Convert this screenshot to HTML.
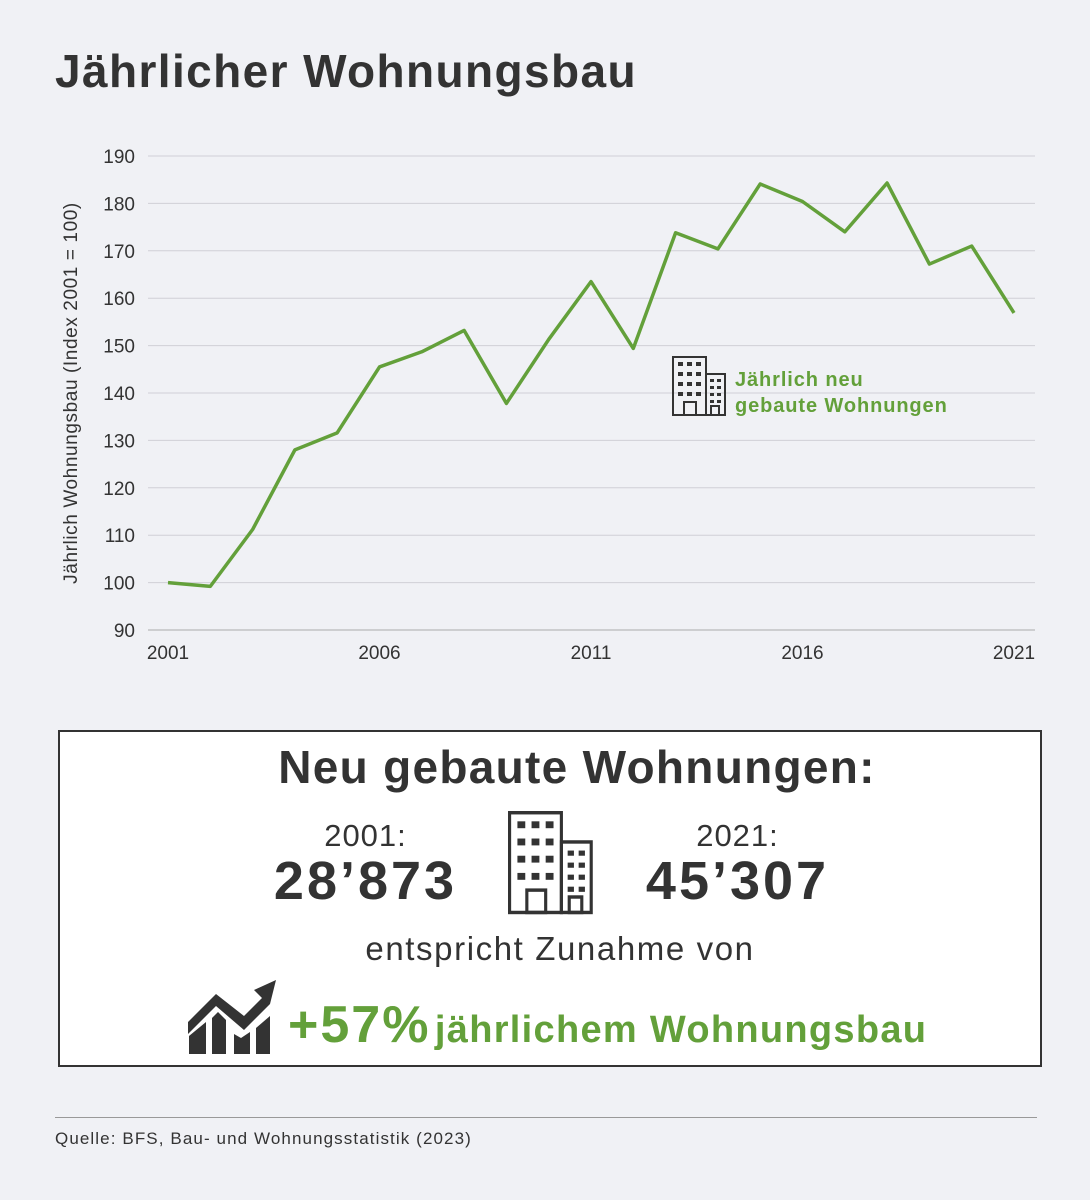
<!DOCTYPE html>
<html><head><meta charset="utf-8"><style>
body{margin:0;width:1090px;height:1200px;background:#f0f1f5;font-family:"Liberation Sans",sans-serif;color:#333;position:relative;overflow:hidden}
.abs{position:absolute}
</style></head><body>
<div class="abs" style="left:55px;top:44px;font-size:46px;font-weight:bold;color:#333;letter-spacing:1.4px">Jährlicher Wohnungsbau</div>
<svg class="abs" style="left:0;top:0" width="1090" height="700">
<defs>
<g id="bld" fill="none" stroke="#333" stroke-width="2">
<rect x="1" y="1" width="33" height="58"/><rect x="34" y="18" width="19" height="41"/>
<rect x="12" y="46" width="12" height="13"/><rect x="39" y="50" width="8" height="9"/>
<g fill="#333" stroke="none">
<rect x="6" y="6" width="5" height="4"/><rect x="15" y="6" width="5" height="4"/><rect x="24" y="6" width="5" height="4"/>
<rect x="6" y="16" width="5" height="4"/><rect x="15" y="16" width="5" height="4"/><rect x="24" y="16" width="5" height="4"/>
<rect x="6" y="26" width="5" height="4"/><rect x="15" y="26" width="5" height="4"/><rect x="24" y="26" width="5" height="4"/>
<rect x="6" y="36" width="5" height="4"/><rect x="15" y="36" width="5" height="4"/><rect x="24" y="36" width="5" height="4"/>
<rect x="38" y="23" width="4" height="3"/><rect x="45" y="23" width="4" height="3"/>
<rect x="38" y="30" width="4" height="3"/><rect x="45" y="30" width="4" height="3"/>
<rect x="38" y="37" width="4" height="3"/><rect x="45" y="37" width="4" height="3"/>
<rect x="38" y="44" width="4" height="3"/><rect x="45" y="44" width="4" height="3"/>
</g></g></defs>
<g id="grid"></g><g id="yt"></g><g id="xt"></g>
<text transform="translate(77,393) rotate(-90)" text-anchor="middle" font-size="19" fill="#333" letter-spacing="0.6">Jährlich Wohnungsbau (Index 2001 = 100)</text>
<path id="line" fill="none" stroke="#63a03a" stroke-width="3.5" stroke-linejoin="round"/>
<use href="#bld" transform="translate(672,356)"/>
<text x="735" y="386" font-size="20" font-weight="bold" fill="#63a03a" letter-spacing="0.9">Jährlich neu</text>
<text x="735" y="412" font-size="20" font-weight="bold" fill="#63a03a" letter-spacing="0.9">gebaute Wohnungen</text>
</svg>
<div class="abs" style="left:58px;top:730px;width:980px;height:333px;border:2px solid #333;background:#fff"></div>
<div class="abs" style="left:85px;width:984px;text-align:center;top:740px;font-size:46px;font-weight:bold;letter-spacing:1.3px">Neu gebaute Wohnungen:</div>
<div class="abs" style="left:268px;width:195px;text-align:center;top:818px;font-size:31px;letter-spacing:1px">2001:</div>
<div class="abs" style="left:258px;width:215px;text-align:center;top:850px;font-size:54px;font-weight:bold;letter-spacing:3px">28’873</div>
<div class="abs" style="left:640px;width:195px;text-align:center;top:818px;font-size:31px;letter-spacing:1px">2021:</div>
<div class="abs" style="left:630px;width:215px;text-align:center;top:850px;font-size:54px;font-weight:bold;letter-spacing:3px">45’307</div>
<svg class="abs" style="left:508px;top:811px" width="86" height="105"><g transform="scale(1.57,1.72)"><use href="#bld"/></g></svg>
<div class="abs" style="left:45px;width:1030px;text-align:center;top:930px;font-size:33px;letter-spacing:1.6px">entspricht Zunahme von</div>
<svg class="abs" style="left:186px;top:978px" width="92" height="80" fill="#333">
<polygon points="2,44 30,16 58,38 76,20 68,12 90,2 84,26 78,32 58,52 30,28 2,56"/>
<polygon points="3,58 20,44 20,76 3,76"/><polygon points="26,40 32,34 40,42 40,76 26,76"/>
<polygon points="48,56 55,60 64,54 64,76 48,76"/><polygon points="70,50 84,38 84,76 70,76"/>
</svg>
<div class="abs" style="left:288px;top:995px;color:#63a03a;font-weight:bold;white-space:nowrap"><span style="font-size:52px;letter-spacing:2px">+57%</span> <span style="font-size:38px;letter-spacing:1.3px">jährlichem Wohnungsbau</span></div>
<div class="abs" style="left:55px;top:1117px;width:982px;height:1px;background:#999"></div>
<div class="abs" style="left:55px;top:1129px;font-size:17px;letter-spacing:1.1px">Quelle: BFS, Bau- und Wohnungsstatistik (2023)</div>
<script>
const years=[2001,2002,2003,2004,2005,2006,2007,2008,2009,2010,2011,2012,2013,2014,2015,2016,2017,2018,2019,2020,2021];
const values=[100,99.2,111.2,128,131.6,145.5,148.7,153.2,137.8,151.3,163.5,149.4,173.8,170.4,184.1,180.4,174,184.3,167.2,171,156.9];
const yTicks=[90,100,110,120,130,140,150,160,170,180,190];
const xTicks=[2001,2006,2011,2016,2021];
const X=v=>168+(v-2001)*(1014-168)/20, Y=v=>630-(v-90)*(630-156)/100;
const NS='http://www.w3.org/2000/svg';
const g=document.getElementById('grid'),yt=document.getElementById('yt'),xt=document.getElementById('xt');
yTicks.forEach(t=>{const l=document.createElementNS(NS,'line');


l.setAttribute('x1',148);l.setAttribute('x2',1035);l.setAttribute('y1',Y(t));l.setAttribute('y2',Y(t));
l.setAttribute('stroke',t===90?'#aaa':'#d0d0d6');l.setAttribute('stroke-width',1);g.appendChild(l);
const s=document.createElementNS(NS,'text');


s.setAttribute('x',135);s.setAttribute('y',Y(t)+7);s.setAttribute('text-anchor','end');s.setAttribute('font-size',19);s.setAttribute('fill','#333');s.textContent=t;yt.appendChild(s);});
xTicks.forEach(t=>{const s=document.createElementNS(NS,'text');


s.setAttribute('x',X(t));s.setAttribute('y',659);s.setAttribute('text-anchor','middle');s.setAttribute('font-size',19);s.setAttribute('fill','#333');s.textContent=t;xt.appendChild(s);});
document.getElementById('line').setAttribute('d',years.map((y,i)=>(i?'L':'M')+X(y)+','+Y(values[i])).join(''));
</script>
</body></html>
